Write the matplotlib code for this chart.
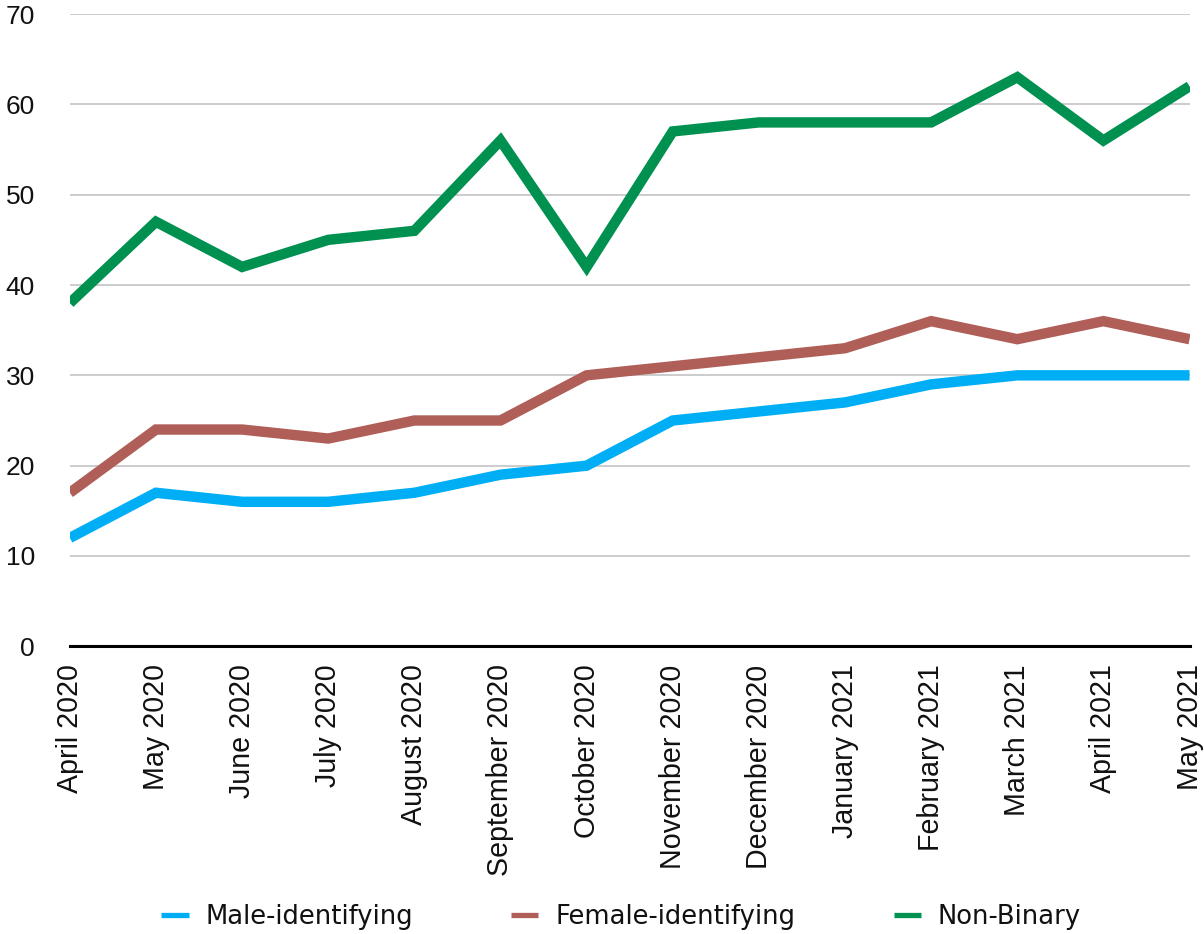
import matplotlib
matplotlib.use("Agg")
import matplotlib.pyplot as plt

months = ["April 2020", "May 2020", "June 2020", "July 2020", "August 2020",
          "September 2020", "October 2020", "November 2020", "December 2020",
          "January 2021", "February 2021", "March 2021", "April 2021", "May 2021"]
male = [12, 17, 16, 16, 17, 19, 20, 25, 26, 27, 29, 30, 30, 30]
female = [17, 24, 24, 23, 25, 25, 30, 31, 32, 33, 36, 34, 36, 34]
non_binary = [38, 47, 42, 45, 46, 56, 42, 57, 58, 58, 58, 63, 56, 62]
y_ticks = [0, 10, 20, 30, 40, 50, 60, 70]

plt.rcParams["font.family"] = ["Liberation Sans", "DejaVu Sans"]

fig = plt.figure(figsize=(12.04, 9.34), dpi=100)
ax = fig.add_axes([0.058, 0.308, 0.930, 0.677])

x = list(range(len(months)))
series = [
    ("Male-identifying", male, "#00AEF5"),
    ("Female-identifying", female, "#B05F58"),
    ("Non-Binary", non_binary, "#009150"),
]
for label, vals, color in series:
    ax.plot(x, vals, color=color, lw=7.5, label=label,
            solid_capstyle="butt", solid_joinstyle="miter", zorder=3)

ax.set_xlim(0, len(months) - 1)
ax.set_ylim(0, 70)
ax.set_yticks(y_ticks)
ax.set_yticklabels([str(v) for v in y_ticks], fontsize=19, color="#111111")
ax.set_xticks(x)
ax.set_xticklabels(months, rotation=90, fontsize=20.6, color="#111111",
                   ha="center", va="top")
ax.tick_params(axis="both", length=0)
ax.tick_params(axis="y", pad=25)
ax.tick_params(axis="x", pad=13)

ax.grid(axis="y", color="#C8C8C8", lw=1.3, zorder=0)
ax.set_axisbelow(True)
for side in ["left", "right", "top"]:
    ax.spines[side].set_visible(False)
ax.spines["bottom"].set_color("#000000")
ax.spines["bottom"].set_linewidth(2.2)
ax.spines["bottom"].set_zorder(4)

handles, labels = ax.get_legend_handles_labels()
leg = fig.legend(handles, labels, loc="center", bbox_to_anchor=(0.516, 0.018),
                 ncol=3, frameon=False, handlelength=1.05,
                 handletextpad=0.66, columnspacing=3.8,
                 prop={"family": "DejaVu Sans", "size": 18.6})
for h in leg.get_lines():
    h.set_linewidth(3.8)
for t in leg.get_texts():
    t.set_color("#111111")

fig.savefig("out.png", dpi=100, facecolor="white")
